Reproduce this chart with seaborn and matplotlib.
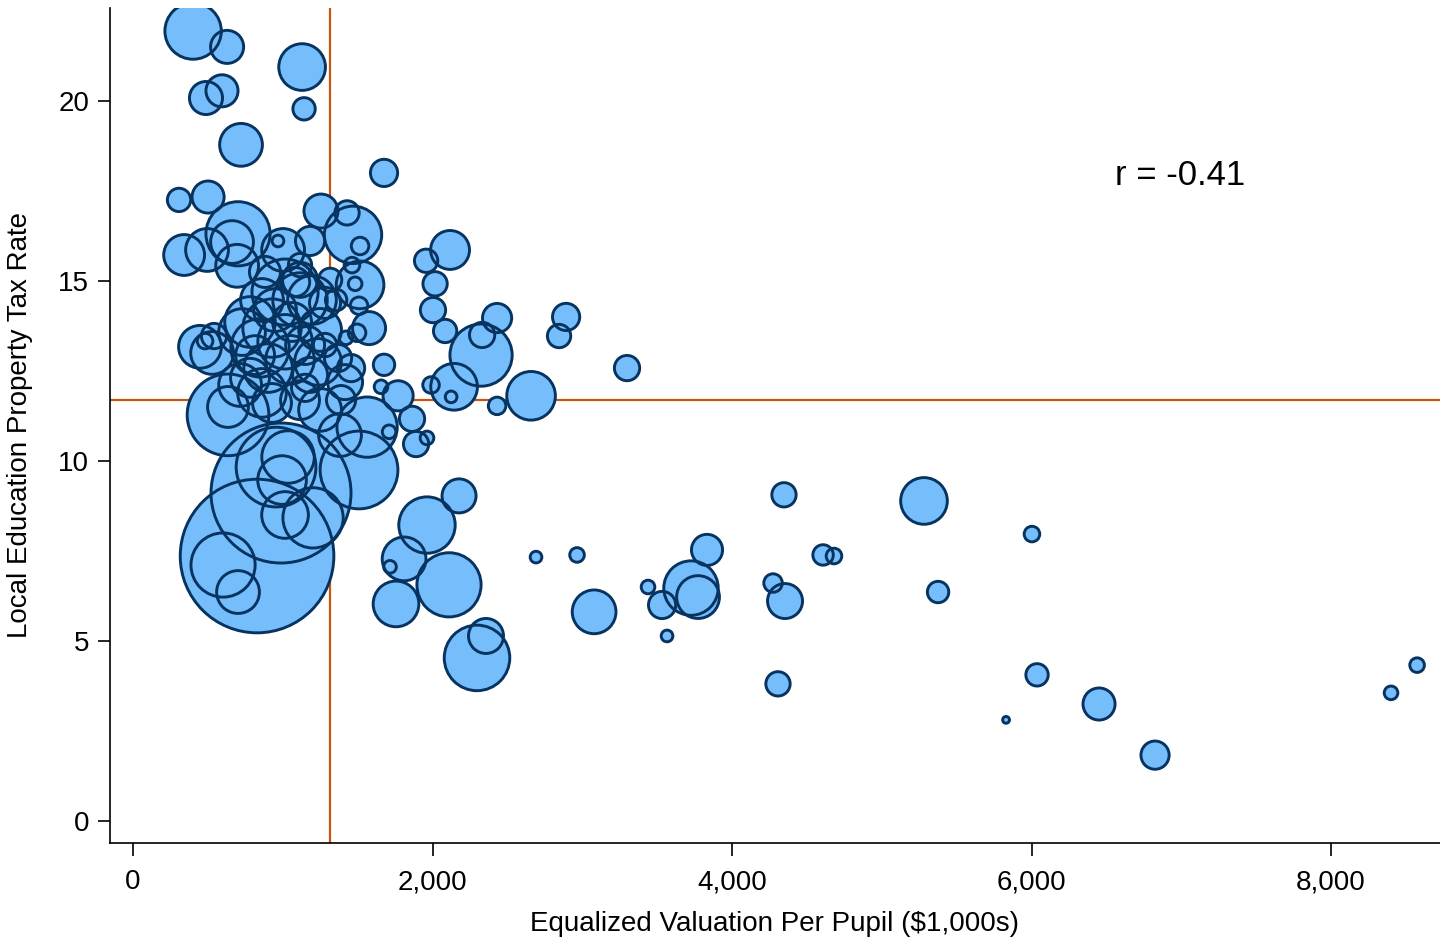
import numpy as np
import pandas as pd
import matplotlib
matplotlib.use("Agg")
import matplotlib.pyplot as plt
from matplotlib.ticker import FuncFormatter, FixedLocator
import seaborn as sns

# Equalized valuation per pupil ($1,000s), one entry per district
valuation = [
    401, 628, 487, 594, 1129, 1142, 721, 1676, 307, 501,
    1255, 1429, 1469, 1516, 341, 701, 494, 661, 695, 1182,
    1462, 1516, 1483, 1509, 1576, 1422, 1456, 1676, 1656, 1770,
    1863, 1963, 1890, 1710, 1509, 1002, 968, 881, 1115, 1015,
    1195, 1282, 1082, 861, 781, 928, 1062, 1356, 447, 528,
    541, 481, 848, 1015, 728, 1149, 902, 781, 1235, 1369,
    634, 634, 861, 928, 1115, 1249, 1389, 1149, 1416, 1382,
    988, 955, 1035, 995, 1015, 1202, 828, 601, 701, 1563,
    1496, 2177, 1963, 1810, 1716, 2110, 1756, 2297, 2357, 2691,
    2965, 3079, 3439, 3533, 3566, 3833, 3726, 3773, 4347, 5282,
    4608, 4681, 4274, 4354, 4307, 5376, 6003, 6037, 5830, 6451,
    6825, 8575, 8401, 2117, 1957, 2017, 2003, 2084, 2431, 2331,
    2324, 2892, 2845, 3299, 2144, 2124, 1990, 2431, 2658,
    1115, 948, 1249, 1048, 815, 1182, 715, 1316, 1115, 1282,
]

# Local education property tax rate
tax_rate = [
    21.94, 21.50, 20.08, 20.28, 20.94, 19.78, 18.78, 18.00, 17.25, 17.33,
    16.94, 16.89, 16.28, 15.97, 15.72, 16.31, 15.86, 16.08, 15.42, 16.11,
    15.44, 14.89, 14.92, 14.31, 13.69, 13.42, 12.58, 12.67, 12.06, 11.81,
    11.17, 10.64, 10.47, 10.81, 9.75, 15.86, 16.11, 15.25, 15.44, 14.69,
    14.47, 14.39, 14.97, 14.47, 13.86, 13.69, 13.86, 14.47, 13.17, 13.00,
    13.47, 13.33, 13.14, 13.31, 13.58, 13.22, 12.58, 12.31, 12.75, 12.86,
    11.28, 11.50, 11.89, 11.61, 11.69, 11.42, 11.69, 12.03, 12.19, 10.72,
    9.11, 9.83, 10.11, 9.47, 8.50, 8.42, 7.36, 7.11, 6.36, 10.94,
    13.56, 9.03, 8.22, 7.28, 7.06, 6.56, 6.03, 4.53, 5.14, 7.33,
    7.39, 5.81, 6.50, 6.00, 5.14, 7.53, 6.47, 6.22, 9.06, 8.89,
    7.39, 7.36, 6.61, 6.11, 3.81, 6.36, 7.97, 4.06, 2.81, 3.25,
    1.83, 4.33, 3.56, 15.86, 15.56, 14.92, 14.19, 13.61, 13.97, 13.50,
    12.94, 14.00, 13.47, 12.58, 12.06, 11.78, 12.11, 11.53, 11.81,
    14.47, 14.19, 13.64, 12.81, 12.94, 12.39, 12.11, 15.03, 15.03, 13.22,
]

# Enrollment (bubble area is proportional to it)
pupils = [
    6728, 2312, 2312, 2178, 4608, 1058, 3872, 1568, 1152, 2178,
    2450, 1250, 6962, 648, 3528, 8712, 3872, 3872, 3872, 1800,
    512, 4802, 392, 648, 2312, 392, 1568, 968, 392, 1922,
    1352, 392, 1352, 392, 12800, 3872, 288, 2048, 1152, 9248,
    5000, 2048, 1800, 3872, 5408, 7200, 3200, 968, 3872, 3872,
    1352, 512, 7200, 6272, 4608, 3200, 5000, 3200, 4608, 1568,
    14112, 3528, 5000, 3200, 3200, 3872, 1800, 1568, 2592, 3872,
    41472, 13448, 5832, 5000, 4608, 7688, 49928, 8712, 3872, 7688,
    648, 2450, 6728, 4050, 338, 8712, 4418, 9086, 2592, 288,
    450, 4050, 392, 1568, 288, 2048, 6272, 3872, 1250, 4608,
    882, 512, 722, 2592, 1250, 968, 512, 1058, 98, 2178,
    1682, 450, 392, 3200, 1152, 1250, 1352, 1152, 1800, 1352,
    8192, 1568, 1152, 1352, 4608, 288, 578, 648, 5000,
    6272, 3872, 3872, 5000, 3200, 2592, 3872, 1152, 2592, 1152,
]

mean_valuation = 1315
mean_tax_rate = 11.69
corr_label = "r = -0.41"

x_ticks = [0, 2000, 4000, 6000, 8000]
y_ticks = [0, 5, 10, 15, 20]

df = pd.DataFrame({"valuation": valuation, "tax_rate": tax_rate, "pupils": pupils})

FILL = "#76BDFB"
EDGE = "#06335F"
REF = "#C8560F"
INK = "#000000"

sns.set_style("ticks")
plt.rcParams["font.family"] = ["Liberation Sans", "DejaVu Sans"]
plt.rcParams["text.color"] = INK
plt.rcParams["axes.labelcolor"] = INK
plt.rcParams["xtick.color"] = INK
plt.rcParams["ytick.color"] = INK

fig = plt.figure(figsize=(14.4, 9.41), dpi=100)
ax = fig.add_axes([110 / 1440, 1 - 843 / 941, 1 - 110 / 1440, (843 - 8) / 941])

# Reference lines at the means, underneath the bubbles
ax.axvline(mean_valuation, color=REF, lw=1.6, zorder=1)
ax.axhline(mean_tax_rate, color=REF, lw=1.6, zorder=1)

vmax = max(pupils)
area_per_pupil = 0.245
size_kw = dict(size="pupils", sizes=(0, vmax * area_per_pupil), size_norm=(0, vmax), legend=False)

# Fills first, then every outline on top so all rims stay visible
sns.scatterplot(data=df, x="valuation", y="tax_rate", ax=ax, color=FILL,
                edgecolor="none", linewidth=0, alpha=1, zorder=2, **size_kw)
sns.scatterplot(data=df, x="valuation", y="tax_rate", ax=ax, color=EDGE,
                facecolor="none", edgecolor=EDGE, linewidth=2.1, zorder=3, **size_kw)

ax.set_xlim(-154, 8728)
ax.set_ylim(-0.61, 22.58)
ax.xaxis.set_major_locator(FixedLocator(x_ticks))
ax.yaxis.set_major_locator(FixedLocator(y_ticks))
ax.xaxis.set_major_formatter(FuncFormatter(lambda v, p: f"{int(v):,}"))
ax.yaxis.set_major_formatter(FuncFormatter(lambda v, p: f"{int(v)}"))

for side in ("top", "right"):
    ax.spines[side].set_visible(False)
for side in ("left", "bottom"):
    ax.spines[side].set_linewidth(1.2)
    ax.spines[side].set_color(INK)

ax.tick_params(axis="x", length=9, width=1.2, pad=10, labelsize=20, color=INK, labelcolor=INK)
ax.tick_params(axis="y", length=9, width=1.2, pad=6, labelsize=20, color=INK, labelcolor=INK)

ax.set_xlabel("Equalized Valuation Per Pupil ($1,000s)", fontsize=20, labelpad=11, color=INK)
ax.set_ylabel("Local Education Property Tax Rate", fontsize=20, labelpad=18, color=INK)

ax.text(6990, 17.94, corr_label, ha="center", va="center", fontsize=25, color=INK)

fig.savefig("out.png", dpi=100, facecolor="white")
